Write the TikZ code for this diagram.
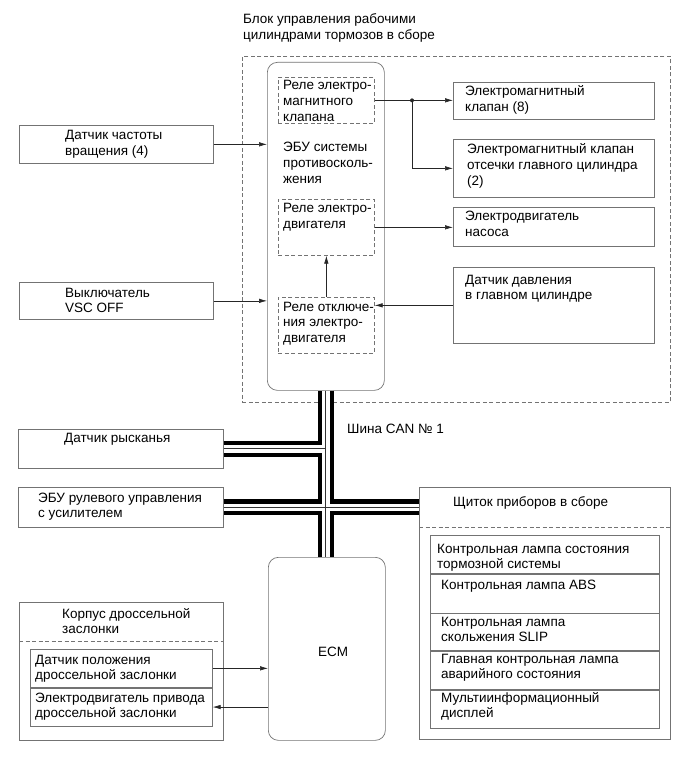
\documentclass[tikz,border=0pt]{standalone}
\usepackage{fontspec}
\setmainfont{Liberation Sans}
\usetikzlibrary{arrows.meta,positioning}
\newcommand{\lbl}{\fontsize{13.5}{15.8}\selectfont}

\begin{document}
\begin{tikzpicture}[x=1pt, y=-1pt,
    box/.style={draw=black!55, line width=0.7pt, inner sep=0pt, anchor=north west},
    dbox/.style={box, dash pattern=on 4pt off 2.5pt},
    rbox/.style={box, rounded corners=10pt},
    txt/.style={inner sep=0pt, anchor=base west, align=left, font=\lbl},
    two/.style={yshift=-15.8pt},
    three/.style={yshift=-31.6pt},
    sep/.style={draw=black!55, line width=0.7pt, dash pattern=on 4pt off 2.5pt},
    arrow/.style={-{Latex[length=8pt,width=4.5pt]}, line width=0.6pt, black!85},
    link/.style={line width=0.6pt, black!85},
    busout/.style={line width=16pt, black},
    busin/.style={line width=7.6pt, white},
    busmid/.style={line width=1.2pt, black!80}
  ]
  \useasboundingbox (0,0) rectangle (691,759);

  % brake actuator assembly
  \node[txt, two] (ubc-t) at (243,24) {Блок управления рабочими\\цилиндрами тормозов в сборе};
  \node[dbox, minimum width=428, minimum height=346] (ubc) at (242,56) {};
  \node[rbox, minimum width=117, minimum height=328] (abs) at (267,62) {};
  \node[dbox, minimum width=96, minimum height=46] (rsol) at (278,77) {};
  \node[txt, three] (rsol-t) at (283,90) {Реле электро-\\магнитного\\клапана};
  \node[txt, three] (abs-t) at (283,152) {ЭБУ системы\\противосколь-\\жения};
  \node[dbox, minimum width=96, minimum height=56] (rmot) at (278,199) {};
  \node[txt, two] (rmot-t) at (283,213) {Реле электро-\\двигателя};
  \node[dbox, minimum width=96, minimum height=56] (rcut) at (278,297) {};
  \node[txt, three] (rcut-t) at (283,311) {Реле отключе-\\ния электро-\\двигателя};

  % actuators and sensors inside
  \node[box, minimum width=201, minimum height=37] (sv) at (453,82) {};
  \node[txt, two] (sv-t) at (465,96) {Электромагнитный\\клапан (8)};
  \node[box, minimum width=201, minimum height=58] (cv) at (453,139) {};
  \node[txt, three] (cv-t) at (467,154) {Электромагнитный клапан\\отсечки главного цилиндра\\(2)};
  \node[box, minimum width=201, minimum height=39] (pump) at (453,207) {};
  \node[txt, two] (pump-t) at (465,221) {Электродвигатель\\насоса};
  \node[box, minimum width=201, minimum height=76] (press) at (453,267) {};
  \node[txt, two] (press-t) at (465,284) {Датчик давления\\в главном цилиндре};

  \coordinate (sx) at (412,0);
  \coordinate (split) at (rsol.east -| sx);
  \draw[link] (rsol.east) -- (split);
  \draw[arrow] (split) -- (sv.west |- split);
  \draw[arrow] (split) |- (cv.west);
  \fill[black!85] (split) circle (2pt);
  \draw[arrow] (rmot.east) -- (pump.west |- rmot.east);
  \draw[arrow] (press.west) -- (rcut.east |- press.west);
  \draw[arrow] (rcut.north) -- (rmot.south);

  % left inputs
  \node[box, minimum width=194, minimum height=38] (speed) at (19,125) {};
  \node[txt, two] (speed-t) at (65,140) {Датчик частоты\\вращения (4)};
  \node[box, minimum width=194, minimum height=37] (vsc) at (19,282) {};
  \node[txt, two] (vsc-t) at (65,297) {Выключатель\\VSC OFF};
  \draw[arrow] (speed.east) -- (speed.east -| abs.west);
  \draw[arrow] (vsc.east) -- (vsc.east -| abs.west);

  % CAN nodes
  \node[box, minimum width=205, minimum height=39] (yaw) at (18,429) {};
  \node[txt] (yaw-t) at (64,442) {Датчик рысканья};
  \node[box, minimum width=205, minimum height=40] (eps) at (18,487) {};
  \node[txt, two] (eps-t) at (38,502) {ЭБУ рулевого управления\\с усилителем};
  \node[txt] (can-t) at (347,433) {Шина CAN № 1};

  % combination meter
  \node[box, minimum width=251, minimum height=252] (meter) at (419,487) {};
  \node[txt] (meter-t) at (453,506) {Щиток приборов в сборе};
  \coordinate (msep) at (0,527);
  \draw[sep] (meter.west |- msep) -- (meter.east |- msep);
  \node[box, minimum width=229, minimum height=38] (brk) at (430,535) {};
  \node[txt, two] (brk-t) at (437,553) {Контрольная лампа состояния\\тормозной системы};
  \node[box, minimum width=229, minimum height=39] (abslamp) at (brk.south west) {};
  \node[txt] (abslamp-t) at (441,589) {Контрольная лампа ABS};
  \node[box, minimum width=229, minimum height=37] (slip) at (abslamp.south west) {};
  \node[txt, two] (slip-t) at (441,626) {Контрольная лампа\\скольжения SLIP};
  \node[box, minimum width=229, minimum height=38] (mil) at (slip.south west) {};
  \node[txt, two] (mil-t) at (441,663) {Главная контрольная лампа\\аварийного состояния};
  \node[box, minimum width=229, minimum height=38] (mid) at (mil.south west) {};
  \node[txt, two] (mid-t) at (441,702) {Мультиинформационный\\дисплей};

  % throttle body and ECM
  \node[box, minimum width=204, minimum height=138] (thr) at (19,602) {};
  \node[txt, two] (thr-t) at (62,618) {Корпус дроссельной\\заслонки};
  \coordinate (tsep) at (0,641);
  \draw[sep] (thr.west |- tsep) -- (thr.east |- tsep);
  \node[box, minimum width=182, minimum height=38] (tps) at (30,649) {};
  \node[txt, two] (tps-t) at (35,664) {Датчик положения\\дроссельной заслонки};
  \node[box, minimum width=182, minimum height=38] (etm) at (tps.south west) {};
  \node[txt, two] (etm-t) at (35,702) {Электродвигатель привода\\дроссельной заслонки};
  \node[rbox, minimum width=117, minimum height=183] (ecm) at (268,557) {};
  \node[txt, anchor=base] (ecm-t) at (333,656) {ECM};
  \draw[arrow] (tps.east) -- (tps.east -| ecm.west);
  \draw[arrow] (etm.east -| ecm.west) -- (etm.east);

  % CAN bus
  \foreach \st in {busout,busin,busmid} {
    \draw[\st] (abs.south) -- (abs.south |- ecm.north);
    \draw[\st] (yaw.east) -- (yaw.east -| abs.south);
    \draw[\st] (eps.east) -- (eps.east -| meter.west);
  }
\end{tikzpicture}
\end{document}
